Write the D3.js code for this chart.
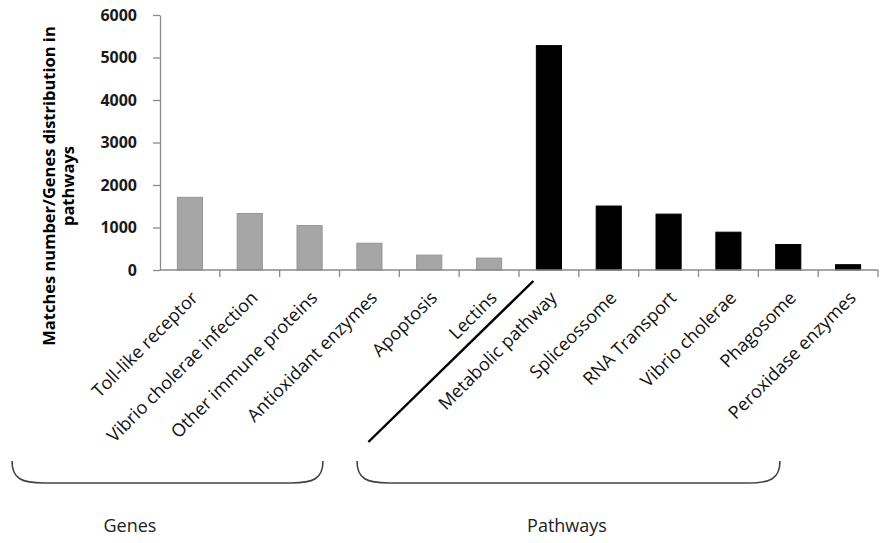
<!DOCTYPE html>
<html>
<head>
<meta charset="utf-8">
<script src="https://cdn.jsdelivr.net/npm/d3@7"></script>
<style>
  body { margin: 0; background: #fff; }
  svg { display: block; font-family: "Open Sans", sans-serif; }
</style>
</head>
<body>
<div id="chart"></div>
<script>
// data
var categories = ["Toll-like receptor", "Vibrio cholerae infection", "Other immune proteins",
    "Antioxidant enzymes", "Apoptosis", "Lectins", "Metabolic pathway", "Spliceossome",
    "RNA Transport", "Vibrio cholerae", "Phagosome", "Peroxidase enzymes"];
var values = [1710, 1330, 1045, 630, 350, 280, 5280, 1505, 1315, 890, 600, 125];
var groups = ["Genes", "Genes", "Genes", "Genes", "Genes", "Genes",
    "Pathways", "Pathways", "Pathways", "Pathways", "Pathways", "Pathways"];
var yTicks = [0, 1000, 2000, 3000, 4000, 5000, 6000];
var groupLabels = ["Genes", "Pathways"];

var width = 892, height = 543;
var plotLeft = 160, plotRight = 878, plotTop = 15, plotBottom = 270;

var svg = d3.select("#chart")
    .append("svg")
    .attr("width", width)
    .attr("height", height);

var x = d3.scaleBand()
    .domain(categories)
    .range([plotLeft, plotRight])
    .paddingInner(0.58)
    .paddingOuter(0.29);

var y = d3.scaleLinear()
    .domain([0, 6000])
    .range([plotBottom, plotTop]);

var color = d3.scaleOrdinal()
    .domain(["Genes", "Pathways"])
    .range(["#a6a6a6", "#000000"]);
var edge = d3.scaleOrdinal()
    .domain(["Genes", "Pathways"])
    .range(["#959595", "#000000"]);

// bars
svg.append("g")
    .selectAll("rect")
    .data(categories)
    .join("rect")
    .attr("x", d => x(d))
    .attr("y", (d, i) => y(values[i]))
    .attr("width", x.bandwidth())
    .attr("height", (d, i) => y(0) - y(values[i]))
    .attr("fill", (d, i) => color(groups[i]))
    .attr("stroke", (d, i) => edge(groups[i]))
    .attr("stroke-width", 1);

// y axis
var yAxis = svg.append("g")
    .attr("transform", `translate(${plotLeft},0)`)
    .call(d3.axisLeft(y).tickValues(yTicks).tickFormat(d3.format("d"))
        .tickSize(7).tickPadding(16).tickSizeOuter(0));
yAxis.select(".domain").attr("stroke", "#8a8a8a").attr("stroke-width", 1.3);
yAxis.selectAll(".tick line").attr("stroke", "#8a8a8a").attr("stroke-width", 1.3);
yAxis.selectAll("text")
    .attr("fill", "#1a1a1a")
    .style("font-size", "16px")
    .style("font-weight", "bold")
    .style("font-family", "'Open Sans', sans-serif");

// x axis line with ticks between categories
var step = x.step();
var boundaries = d3.range(categories.length + 1).map(i => plotLeft + i * step);
svg.append("line")
    .attr("x1", plotLeft).attr("x2", plotRight)
    .attr("y1", plotBottom).attr("y2", plotBottom)
    .attr("stroke", "#8a8a8a").attr("stroke-width", 1.3);
svg.append("g")
    .selectAll("line")
    .data(boundaries.slice(1))
    .join("line")
    .attr("x1", d => d).attr("x2", d => d)
    .attr("y1", plotBottom).attr("y2", plotBottom + 7)
    .attr("stroke", "#8a8a8a").attr("stroke-width", 1.3);

// rotated category labels
svg.append("g")
    .selectAll("text")
    .data(categories)
    .join("text")
    .attr("transform", d => `translate(${x(d) + x.bandwidth() / 2 + 9},${plotBottom + 29}) rotate(-45)`)
    .attr("text-anchor", "end")
    .attr("fill", "#111")
    .style("font-size", "18px")
    .text(d => d);

// y axis title
var yTitle = svg.append("text")
    .attr("transform", "translate(55,186) rotate(-90)")
    .attr("text-anchor", "middle")
    .attr("fill", "#000")
    .style("font-size", "16.5px")
    .style("font-weight", "bold");
yTitle.append("tspan").attr("x", 0).attr("y", 0).text("Matches number/Genes distribution in");
yTitle.append("tspan").attr("x", 0).attr("y", 19).text("pathways");

// diagonal separator between the two groups
var sepX = x(categories[6]) - 3;
svg.append("line")
    .attr("x1", sepX).attr("y1", plotBottom + 11)
    .attr("x2", sepX - 165).attr("y2", plotBottom + 172)
    .attr("stroke", "#000").attr("stroke-width", 2.4);

// braces under the labels
var braces = [
    {label: groupLabels[0], x0: 12, x1: 323, tx: 130},
    {label: groupLabels[1], x0: 357, x1: 780, tx: 567}
];
var by0 = 461, by1 = 483;
svg.append("g")
    .selectAll("path")
    .data(braces)
    .join("path")
    .attr("d", b => `M${b.x0},${by0} C${b.x0},${by1 - 4} ${b.x0 + 10},${by1} ${b.x0 + 32},${by1} ` +
        `H${b.x1 - 32} C${b.x1 - 10},${by1} ${b.x1},${by1 - 4} ${b.x1},${by0}`)
    .attr("fill", "none")
    .attr("stroke", "#444")
    .attr("stroke-width", 1.6);

svg.append("g")
    .selectAll("text")
    .data(braces)
    .join("text")
    .attr("x", b => b.tx)
    .attr("y", 532)
    .attr("text-anchor", "middle")
    .attr("fill", "#222")
    .style("font-size", "18px")
    .text(b => b.label);
</script>
</body>
</html>
